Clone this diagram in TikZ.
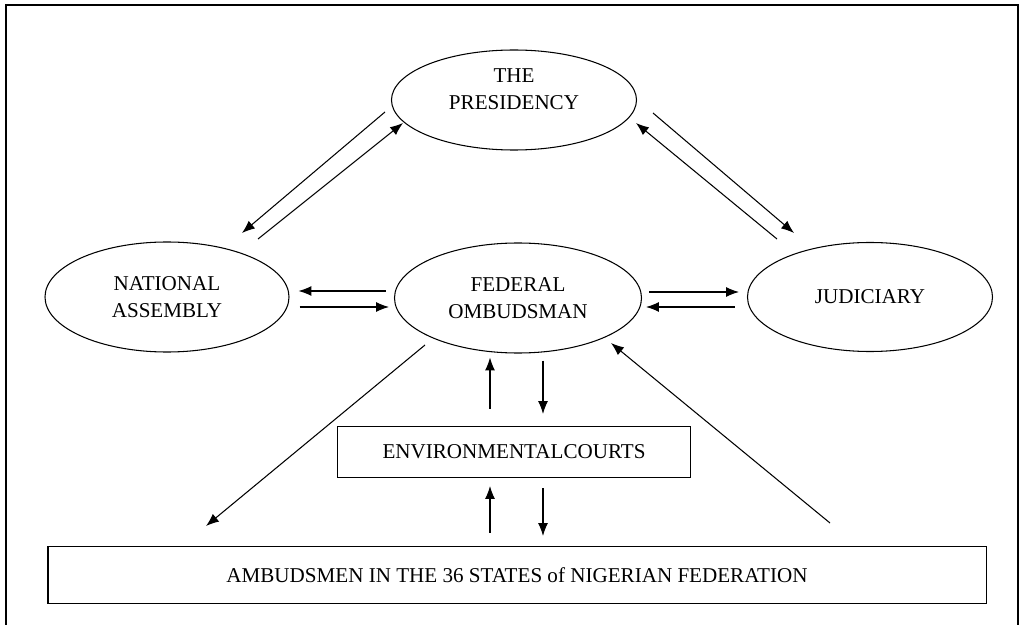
\documentclass[tikz,border=0pt]{standalone}
\usepackage{fontspec}
\setmainfont{Liberation Serif}
\usetikzlibrary{shapes.geometric,calc,arrows.meta}
\tikzset{>={Latex[length=11pt,width=8.5pt]}}
\tikzset{
  office/.style = {draw,ellipse,line width=0.9pt,inner sep=0pt,align=center,
    font=\fontsize{18}{23}\selectfont},
  panel/.style = {draw,rectangle,line width=0.9pt,inner sep=0pt,
    font=\fontsize{18}{23}\selectfont},
  link/.style = {->,line width=0.9pt}
}

\begin{document}
\begin{tikzpicture}[x=0.03cm,y=-0.03cm]
  \useasboundingbox (0,0) rectangle (1023,625);
  \draw[line width=1.2pt] (6,640) -- (6,5) -- (1018,5) -- (1018,640);

  \node[office,minimum width=7.35cm,minimum height=3cm] (pres) at (514,100) {THE\\PRESIDENCY\\[-5pt]\mbox{}};
  \node[office,minimum width=7.32cm,minimum height=3.3cm] (na) at (167,297) {NATIONAL\\ASSEMBLY};
  \node[office,minimum width=7.41cm,minimum height=3.3cm] (fo) at (518,298) {FEDERAL\\OMBUDSMAN};
  \node[office,minimum width=7.35cm,minimum height=3.27cm] (jud) at (870,297) {JUDICIARY};
  \node[panel,minimum width=10.59cm,minimum height=1.53cm] (ec) at (514,452) {ENVIRONMENTALCOURTS};
  \node[panel,minimum width=28.14cm,minimum height=1.71cm] (amb) at (517,575) {AMBUDSMEN IN THE 36 STATES of NIGERIAN FEDERATION};

  % presidency <-> assembly / judiciary
  \draw[link] ($(pres)+(-129,12)$) -- ($(na)+(75,-64)$);
  \draw[link] ($(na)+(91,-58)$) -- ($(pres)+(-111,23)$);
  \draw[link] ($(pres)+(139,13)$) -- ($(jud)+(-76,-64)$);
  \draw[link] ($(jud)+(-93,-58)$) -- ($(pres)+(122,23)$);

  % ombudsman <-> assembly / judiciary
  \draw[link] ($(fo.west)+(-8,-7)$) -- ($(na.east)+(9,-6)$);
  \draw[link] ($(na.east)+(10,10)$) -- ($(fo.west)+(-5,9)$);
  \draw[link] ($(fo.east)+(7,-6)$) -- ($(jud.west)+(-8,-5)$);
  \draw[link] ($(jud.west)+(-12,10)$) -- ($(fo.east)+(4,9)$);

  % ombudsman <-> courts <-> states
  \draw[link] ($(ec.north)+(-24,-17)$) -- ($(fo.south)+(-28,4)$);
  \draw[link] ($(fo.south)+(25,7)$) -- ($(ec.north)+(29,-12)$);
  \draw[link] ($(amb.north)+(-27,-13)$) -- ($(ec.south)+(-24,8)$);
  \draw[link] ($(ec.south)+(29,10)$) -- ($(amb.north)+(26,-10)$);

  % ombudsman <-> states
  \draw[link] ($(fo)+(-93,47)$) -- ($(amb)+(-311,-49)$);
  \draw[link] ($(amb)+(313,-52)$) -- ($(fo)+(93,45)$);
\end{tikzpicture}
\end{document}
